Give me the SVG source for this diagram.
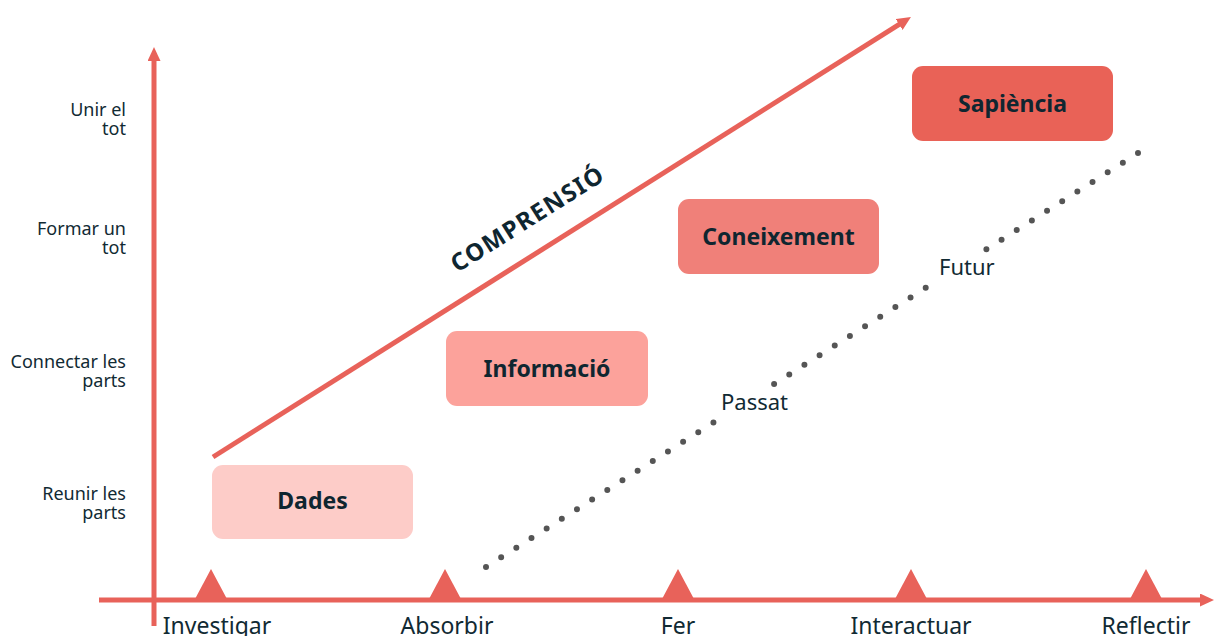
<svg xmlns="http://www.w3.org/2000/svg" width="1214" height="636" viewBox="0 0 1214 636">
  <style>
    .axis { stroke: #e8625a; stroke-width: 5; fill: none; }
    .tick { fill: #e8625a; }
    .lvl { font-family: "Noto Sans", "DejaVu Sans", sans-serif; font-size: 18px; fill: #112a33; text-anchor: end; }
    .step { font-family: "Noto Sans", "DejaVu Sans", sans-serif; font-size: 23px; fill: #112a33; text-anchor: middle; }
    .time { font-family: "Noto Sans", "DejaVu Sans", sans-serif; font-size: 22px; fill: #112a33; }
    .box-label { font-family: "Noto Sans", "DejaVu Sans", sans-serif; font-size: 23px; font-weight: 700; fill: #0f2630; text-anchor: middle; }
    .dots { stroke: #555555; stroke-width: 6; stroke-linecap: round; stroke-dasharray: 0 17.96; fill: none; }
  </style>
  <defs>
    <marker id="arrow" viewBox="0 0 14 13" refX="2" refY="6.5" markerWidth="14" markerHeight="13" markerUnits="userSpaceOnUse" orient="auto">
      <path d="M0,0 L14,6.5 L0,13 z" fill="#e8625a"/>
    </marker>
    <polygon id="tri" points="0,-30 16,0 -16,0"/>
  </defs>

  <rect width="1214" height="636" fill="#ffffff"/>

  <!-- axes -->
  <g id="axes">
    <line class="axis" x1="154" y1="626" x2="154" y2="59" marker-end="url(#arrow)"/>
    <line class="axis" x1="99" y1="600" x2="1202" y2="600" marker-end="url(#arrow)"/>
    <use href="#tri" class="tick" x="211" y="599"/>
    <use href="#tri" class="tick" x="445" y="599"/>
    <use href="#tri" class="tick" x="678" y="599"/>
    <use href="#tri" class="tick" x="911" y="599"/>
    <use href="#tri" class="tick" x="1146" y="599"/>
  </g>

  <!-- level labels on the vertical axis -->
  <g id="levels">
    <text class="lvl" x="126" y="116">Unir el</text>
    <text class="lvl" x="126" y="135">tot</text>
    <text class="lvl" x="126" y="235">Formar un</text>
    <text class="lvl" x="126" y="254">tot</text>
    <text class="lvl" x="126" y="368">Connectar les</text>
    <text class="lvl" x="126" y="387">parts</text>
    <text class="lvl" x="126" y="500">Reunir les</text>
    <text class="lvl" x="126" y="519">parts</text>
  </g>

  <!-- step labels under the horizontal axis -->
  <g id="steps">
    <text class="step" x="217" y="634">Investigar</text>
    <text class="step" x="447" y="634">Absorbir</text>
    <text class="step" x="678" y="634">Fer</text>
    <text class="step" x="911" y="634">Interactuar</text>
    <text class="step" x="1146" y="634">Reflectir</text>
  </g>

  <!-- connectors: understanding arrow and past/future dotted line -->
  <g id="connectors">
    <line class="axis" x1="213" y1="457" x2="900.8" y2="23.4" marker-end="url(#arrow)"/>
    <line class="dots" x1="486" y1="567" x2="714.2" y2="422.1"/>
    <line class="dots" x1="774.1" y1="384.1" x2="926.5" y2="287.3"/>
    <line class="dots" x1="986.4" y1="249.3" x2="1138.8" y2="152.5"/>
  </g>

  <g id="label-comprensio">
    <text x="532" y="226" transform="rotate(-32.2 532 226)" font-family="'Noto Sans', 'DejaVu Sans', sans-serif" font-size="24" font-weight="700" letter-spacing="1.5" fill="#0f2630" text-anchor="middle">COMPRENSIÓ</text>
  </g>
  <g id="label-passat">
    <text class="time" x="721" y="410">Passat</text>
  </g>
  <g id="label-futur">
    <text class="time" x="939" y="275">Futur</text>
  </g>

  <g id="node-dades">
    <rect x="212" y="465" width="201" height="74" rx="11" fill="#fdccc8"/>
    <text class="box-label" x="312.5" y="509">Dades</text>
  </g>
  <g id="node-informacio">
    <rect x="446" y="331" width="202" height="75" rx="11" fill="#fca29b"/>
    <text class="box-label" x="547" y="376.5">Informació</text>
  </g>
  <g id="node-coneixement">
    <rect x="678" y="199" width="201" height="75" rx="11" fill="#f08079"/>
    <text class="box-label" x="778.5" y="244.5">Coneixement</text>
  </g>
  <g id="node-sapiencia">
    <rect x="912" y="66" width="201" height="75" rx="11" fill="#e96257"/>
    <text class="box-label" x="1012.5" y="111.5">Sapiència</text>
  </g>
</svg>
